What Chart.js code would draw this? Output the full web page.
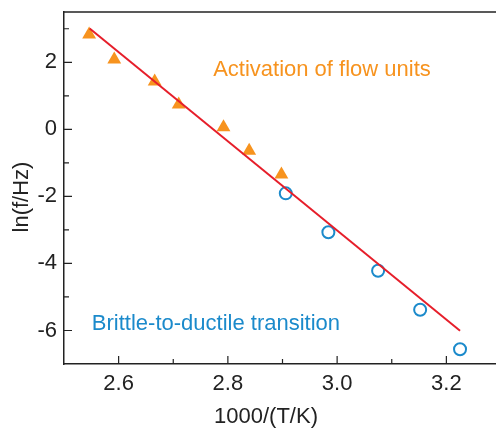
<!DOCTYPE html>
<html>
<head>
<meta charset="utf-8">
<script src="https://cdn.jsdelivr.net/npm/chart.js@4"></script>
<style>
    html, body { margin: 0; padding: 0; background: #fff; overflow: hidden; }
    #wrap { width: 509px; height: 428px; position: relative; }
</style>
</head>
<body>
<div id="wrap"><canvas id="arrhenius"></canvas></div>
<script>
// Activation of flow units (triangles)
const flowX = [2.546, 2.592, 2.666, 2.710, 2.792, 2.839, 2.898];
const flowY = [2.83, 2.08, 1.43, 0.74, 0.06, -0.64, -1.35];

// Brittle-to-ductile transition (open circles)
const btdX = [2.906, 2.984, 3.075, 3.152, 3.225];
const btdY = [-1.91, -3.07, -4.22, -5.38, -6.56];

// Linear fit end points
const fitX = [2.547, 3.225];
const fitY = [3.01, -6.01];

// Axis ticks
const xTicks = [2.6, 2.8, 3.0, 3.2];
const xMinor = [2.7, 2.9, 3.1];
const yTicks = [-6, -4, -2, 0, 2];
const yMinor = [-5, -3, -1, 1, 3];

const FONT = "'Liberation Sans', Arial, Helvetica, sans-serif";

const toPoints = (xs, ys) => xs.map((x, i) => ({ x: x, y: ys[i] }));

// inward ticks, top border, axis titles and text labels
const framePlugin = {
    id: 'frame',
    afterDraw(chart) {
        const ctx = chart.ctx;
        const area = chart.chartArea;
        const xs = chart.scales.x;
        const ys = chart.scales.y;

        ctx.save();
        ctx.strokeStyle = '#222';
        ctx.lineWidth = 1.5;
        ctx.beginPath();
        ctx.moveTo(area.left, area.top);
        ctx.lineTo(area.right, area.top);
        ctx.stroke();

        ctx.lineWidth = 1.2;
        ctx.beginPath();
        xTicks.forEach(v => {
            const px = xs.getPixelForValue(v);
            ctx.moveTo(px, area.bottom);
            ctx.lineTo(px, area.bottom - 8);
        });
        xMinor.forEach(v => {
            const px = xs.getPixelForValue(v);
            ctx.moveTo(px, area.bottom);
            ctx.lineTo(px, area.bottom - 5);
        });
        yTicks.forEach(v => {
            const py = ys.getPixelForValue(v);
            ctx.moveTo(area.left, py);
            ctx.lineTo(area.left + 8, py);
        });
        yMinor.forEach(v => {
            const py = ys.getPixelForValue(v);
            ctx.moveTo(area.left, py);
            ctx.lineTo(area.left + 5, py);
        });
        ctx.stroke();

        // axis titles
        ctx.fillStyle = '#222';
        ctx.font = '22px ' + FONT;
        ctx.textAlign = 'center';
        ctx.textBaseline = 'middle';
        ctx.fillText('1000/(T/K)', 266, 417);
        ctx.translate(22, 197);
        ctx.rotate(-Math.PI / 2);
        ctx.fillText('ln(f/Hz)', 0, 0);
        ctx.restore();

        // labels in the plot
        ctx.save();
        ctx.font = '22px ' + FONT;
        ctx.textAlign = 'left';
        ctx.textBaseline = 'alphabetic';
        ctx.fillStyle = '#f7931e';
        ctx.fillText('Activation of flow units', xs.getPixelForValue(2.773), ys.getPixelForValue(1.58));
        ctx.fillStyle = '#1b8acb';
        ctx.fillText('Brittle-to-ductile transition', xs.getPixelForValue(2.551), ys.getPixelForValue(-6.0));
        ctx.restore();
    }
};

new Chart(document.getElementById('arrhenius'), {
    type: 'scatter',
    data: {
        datasets: [
            {
                label: 'fit',
                type: 'line',
                data: toPoints(fitX, fitY),
                borderColor: '#e61e2a',
                borderWidth: 2,
                pointRadius: 0,
                fill: false,
                order: 0
            },
            {
                label: 'Activation of flow units',
                data: toPoints(flowX, flowY),
                pointStyle: 'triangle',
                pointRadius: 8,
                backgroundColor: '#f7931e',
                borderColor: '#f7931e',
                borderWidth: 0,
                order: 1
            },
            {
                label: 'Brittle-to-ductile transition',
                data: toPoints(btdX, btdY),
                pointStyle: 'circle',
                pointRadius: 6,
                backgroundColor: 'rgba(0,0,0,0)',
                borderColor: '#1b8acb',
                borderWidth: 2,
                order: 1
            }
        ]
    },
    options: {
        responsive: true,
        maintainAspectRatio: false,
        animation: false,
        layout: { padding: { top: 12, left: 0, right: 0, bottom: 0 } },
        plugins: {
            legend: { display: false },
            tooltip: { enabled: false }
        },
        scales: {
            x: {
                type: 'linear',
                min: 2.5,
                max: 3.3,
                afterBuildTicks: scale => { scale.ticks = xTicks.map(v => ({ value: v })); },
                afterFit: scale => {
                    scale.height = 64;
                    scale.paddingLeft = 0;
                    scale.paddingRight = 0;
                },
                grid: { display: false, drawTicks: false },
                border: { display: true, color: '#222', width: 1.5 },
                ticks: {
                    color: '#222',
                    padding: 7,
                    font: { family: FONT, size: 22 },
                    callback: v => v.toFixed(1)
                }
            },
            y: {
                type: 'linear',
                min: -7,
                max: 3.5,
                afterBuildTicks: scale => { scale.ticks = yTicks.map(v => ({ value: v })); },
                afterFit: scale => {
                    scale.width = 64;
                    scale.paddingTop = 0;
                    scale.paddingBottom = 0;
                },
                grid: { display: false, drawTicks: false },
                border: { display: true, color: '#222', width: 1.5 },
                ticks: {
                    color: '#222',
                    padding: 7,
                    font: { family: FONT, size: 22 },
                    callback: v => String(v)
                }
            }
        }
    },
    plugins: [framePlugin]
});
</script>
</body>
</html>
